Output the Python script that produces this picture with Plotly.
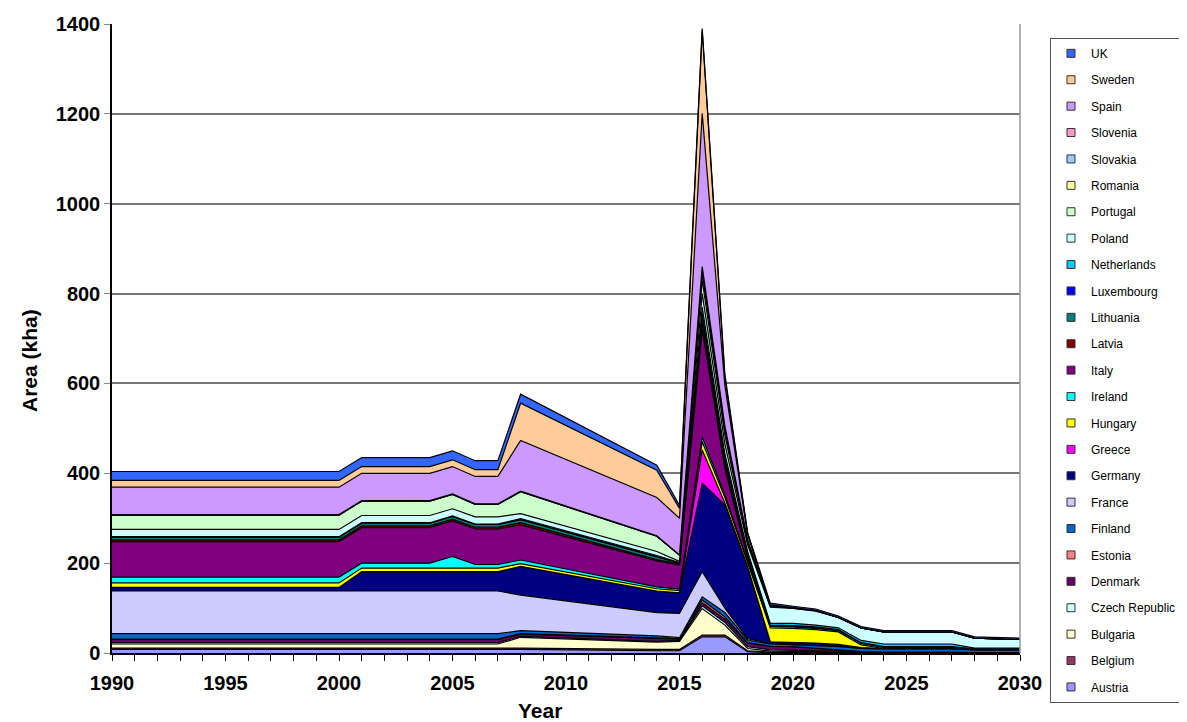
import plotly.graph_objects as go

years = [1990, 2000, 2001, 2004, 2005, 2006, 2007, 2008, 2014, 2015, 2016, 2017,
         2018, 2019, 2020, 2021, 2022, 2023, 2024, 2027, 2028, 2030]

countries = ["Austria", "Belgium", "Bulgaria", "Czech Republic", "Denmark", "Estonia",
             "Finland", "France", "Germany", "Greece", "Hungary", "Ireland", "Italy",
             "Latvia", "Lithuania", "Luxembourg", "Netherlands", "Poland", "Portugal",
             "Romania", "Slovakia", "Slovenia", "Spain", "Sweden", "UK"]

colors = ["#9999FF", "#993366", "#FFFFCC", "#CCFFFF", "#660066", "#FF8080",
          "#0066CC", "#CCCCFF", "#000080", "#FF00FF", "#FFFF00", "#00FFFF", "#800080",
          "#800000", "#008080", "#0000FF", "#00CCFF", "#CCFFFF", "#CCFFCC",
          "#FFFF99", "#99CCFF", "#FF99CC", "#CC99FF", "#FFCC99", "#3366FF"]

# values in kha, one list per country, aligned with `years`
austria     = [8, 8, 8, 8, 8, 8, 8, 8, 5, 5, 36, 36, 3, 1, 1, 1, 1, 0, 0, 0, 0, 0]
belgium     = [3, 3, 3, 3, 3, 3, 3, 3, 3, 3, 4, 4, 2, 1, 1, 1, 0, 0, 0, 0, 0, 0]
bulgaria    = [9, 9, 9, 9, 9, 9, 9, 24, 16, 18, 59, 22, 5, 2, 2, 1, 1, 1, 0, 0, 0, 0]
czech       = [3, 3, 3, 3, 3, 3, 3, 2, 2, 2, 6, 6, 4, 3, 2, 2, 2, 1, 2, 2, 1, 1]
denmark     = [7, 7, 7, 7, 7, 7, 7, 5, 6, 3, 7, 7, 8, 8, 8, 6, 3, 1, 0, 0, 0, 0]
estonia     = [1, 1, 1, 1, 1, 1, 1, 1, 1, 1, 6, 5, 1, 0, 0, 0, 0, 0, 0, 0, 0, 0]
finland     = [12, 12, 12, 12, 12, 12, 12, 7, 5, 2, 7, 10, 6, 5, 4, 5, 7, 7, 7, 7, 6, 6]
france      = [95, 95, 95, 95, 95, 95, 95, 79, 52, 54, 56, 10, 3, 1, 1, 1, 1, 0, 0, 0, 0, 0]
germany     = [8, 8, 43, 43, 43, 43, 43, 64, 48, 46, 197, 230, 160, 4, 5, 5, 4, 2, 1, 1, 1, 1]
greece      = [0, 0, 0, 0, 0, 0, 0, 0, 0, 0, 74, 4, 0, 0, 0, 0, 0, 0, 0, 0, 0, 0]
hungary     = [10, 10, 8, 8, 8, 8, 8, 6, 5, 5, 18, 12, 8, 31, 31, 30, 28, 6, 0, 0, 0, 0]
ireland     = [13, 13, 11, 11, 26, 8, 8, 8, 4, 3, 10, 6, 4, 3, 3, 3, 3, 4, 3, 3, 1, 1]
italy       = [79, 79, 79, 79, 79, 79, 79, 78, 58, 54, 240, 58, 8, 1, 1, 1, 1, 0, 0, 0, 0, 0]
latvia      = [4, 4, 4, 4, 4, 4, 4, 5, 3, 2, 15, 10, 3, 0, 0, 0, 0, 0, 0, 0, 0, 0]
lithuania   = [6, 6, 6, 6, 6, 6, 6, 7, 6, 2, 15, 10, 4, 1, 1, 1, 1, 1, 1, 1, 0, 0]
luxembourg  = [0, 0, 0, 0, 0, 0, 0, 0, 1, 0, 5, 3, 2, 1, 1, 1, 0, 0, 0, 0, 0, 0]
netherlands = [1, 1, 1, 1, 1, 1, 1, 2, 2, 1, 15, 10, 5, 4, 5, 4, 4, 5, 6, 6, 2, 2]
poland      = [16, 16, 16, 16, 16, 16, 16, 11, 9, 3, 30, 22, 15, 36, 33, 31, 23, 28, 27, 27, 22, 19]
portugal    = [32, 32, 32, 32, 32, 28, 28, 49, 34, 14, 30, 20, 5, 2, 1, 1, 0, 0, 0, 0, 0, 0]
romania     = [0, 0, 0, 0, 0, 0, 0, 0, 0, 0, 15, 10, 3, 1, 0, 0, 0, 0, 0, 0, 0, 0]
slovakia    = [1, 1, 1, 1, 1, 1, 1, 1, 1, 0, 10, 7, 2, 1, 1, 1, 0, 0, 0, 0, 0, 0]
slovenia    = [0, 0, 0, 0, 0, 0, 0, 0, 0, 0, 5, 3, 1, 0, 0, 0, 0, 0, 0, 0, 0, 0]
spain       = [61, 61, 61, 61, 61, 61, 61, 113, 85, 82, 341, 90, 12, 1, 0, 0, 0, 0, 0, 0, 0, 0]
sweden      = [15, 15, 15, 15, 15, 15, 15, 83, 61, 22, 184, 17, 2, 0, 0, 0, 0, 0, 0, 0, 0, 0]
uk          = [20, 20, 20, 20, 20, 20, 20, 20, 11, 7, 5, 8, 2, 4, 3, 3, 3, 3, 3, 3, 3, 3]

series = [austria, belgium, bulgaria, czech, denmark, estonia, finland, france, germany,
          greece, hungary, ireland, italy, latvia, lithuania, luxembourg, netherlands,
          poland, portugal, romania, slovakia, slovenia, spain, sweden, uk]

y_ticks = [0, 200, 400, 600, 800, 1000, 1200, 1400]
x_ticks = [1990, 1995, 2000, 2005, 2010, 2015, 2020, 2025, 2030]

FONT = "Liberation Sans, Arial, sans-serif"

fig = go.Figure()
# stacked areas, Austria at the bottom
for name, col, vals in zip(countries, colors, series):
    fig.add_trace(go.Scatter(
        x=years, y=vals, name=name, stackgroup="one", mode="lines",
        line=dict(color="black", width=1.2), fillcolor=col,
        showlegend=False, hoverinfo="x+y+name"))
# legend keys, UK first (as in the reference legend)
for name, col in zip(countries[::-1], colors[::-1]):
    fig.add_trace(go.Scatter(
        x=[None], y=[None], name=name, mode="markers", legendgroup=name,
        marker=dict(symbol="square", size=8, color=col,
                    line=dict(color="#333333", width=1)),
        showlegend=True))

fig.update_layout(
    width=1179, height=722,
    margin=dict(l=104, r=167, t=16, b=77, autoexpand=False),
    paper_bgcolor="white", plot_bgcolor="white",
    font=dict(family=FONT, color="black"),
    showlegend=True,
    legend=dict(
        x=(1050 - 112) / 908, y=0.978, xanchor="left", yanchor="top",
        traceorder="grouped", tracegroupgap=7.4, maxheight=700,
        font=dict(family=FONT, size=12, color="black"),
        bordercolor="#555555", borderwidth=1, bgcolor="white",
        itemwidth=30),
    xaxis=dict(
        range=[1990, 2030], tickvals=x_ticks, ticktext=[str(v) for v in x_ticks],
        showgrid=False, zeroline=False, showline=True, linecolor="black", linewidth=1.5,
        ticks="outside", ticklen=6, tickcolor="black", ticklabelstandoff=5,
        minor=dict(dtick=1, ticks="outside", ticklen=6, tickcolor="black", showgrid=False),
        tickfont=dict(family=FONT, size=20, weight="bold"), automargin=False),
    yaxis=dict(
        range=[0, 1400], tickvals=y_ticks,
        showgrid=True, gridcolor="#777777", gridwidth=1.5,
        zeroline=False, showline=True, linecolor="black", linewidth=1.5,
        ticks="outside", ticklen=6, tickcolor="#888888",
        tickfont=dict(family=FONT, size=20, weight="bold"), automargin=False),
    annotations=[
        dict(text="Year", xref="paper", yref="paper", x=(540 - 112) / 908,
             y=-(710 - 653) / 629, xanchor="center", yanchor="middle", showarrow=False,
             font=dict(family=FONT, size=21, color="black", weight="bold")),
        dict(text="Area (kha)", xref="paper", yref="paper", x=(29 - 112) / 908,
             y=(653 - 361) / 629, xanchor="center", yanchor="middle", showarrow=False,
             textangle=-90, font=dict(family=FONT, size=21, color="black", weight="bold")),
    ],
)

fig.add_shape(type="line", xref="paper", yref="paper", x0=1, x1=1, y0=0, y1=1,
              line=dict(color="#999999", width=1.5))

fig.write_html("out.html")
